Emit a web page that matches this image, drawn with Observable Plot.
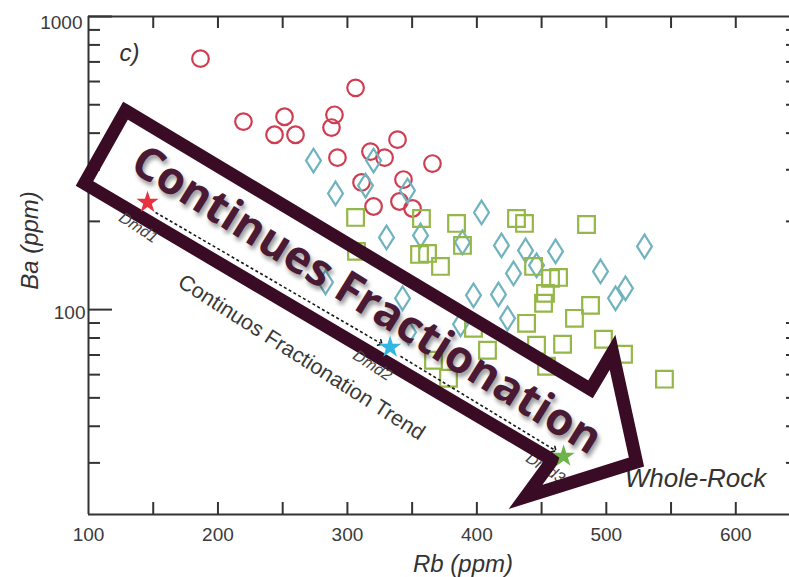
<!DOCTYPE html>
<html><head><meta charset="utf-8">
<script src="https://cdn.jsdelivr.net/npm/d3@7"></script>
<script src="https://cdn.jsdelivr.net/npm/@observablehq/plot@0.6"></script>
<style>body{margin:0;background:#fff;}</style>
</head><body><div id="chart"></div>
<script>
// ---- data (Rb ppm, Ba ppm) ----
const circleRb = [186.5,219.7,251.4,243.7,259.9,306.3,290.0,287.7,292.3,317.8,328.7,310.9,320.2,338.7,343.3,340.2,350.3,365.7];
const circleBa = [718,438,455,395,395,571,462,418,330,346,330,271.5,224.8,380,277.8,233.8,221.3,315];

const diamondRb = [273.8,320.2,314.0,290.8,346.4,330.2,356.5,403.6,388.9,419.0,437.6,460.8,529.5,428.3,446.1,495.5,514.8,507.1,397.4,416.7,342.6,283.1,423.7,387.4,347.2];
const diamondBa = [322.5,322.5,265,249,254.9,176.3,179.1,214.5,169.5,165.6,159.2,158.0,164.3,132.9,141.6,135.0,118.2,109.3,111.9,112.7,109.3,123.9,93.4,89.1,83.7];

const squareRb = [306.3,307.0,357.2,384.3,355.7,361.9,388.9,371.9,430.6,436.8,484.7,443.8,456.9,463.1,453.0,451.5,487.8,475.4,438.4,446.1,466.2,497.8,513.3,453.8,544.9,397.4,408.2,366.5,378.1];
const squareBa = [206.3,158,204.6,196.8,154.3,155.5,165.6,140.4,204.6,196.8,195.2,140.4,127.8,128.8,113.6,105.1,103.4,93.4,89.8,75.6,76.2,79.2,70.4,64.1,57.9,86.4,72.7,67.2,58.3];

const starNames = ["Dmd1","Dmd2","Dmd3"];
const starRb = [145.6,333,467];
const starBa = [232,74.4,31.6];
const starColors = ["#e8323f","#32b6e4","#6cb447"];
const starLabelRb = [138.6,319.4,453.0];
const starLabelBa = [190.5,64.5,28.8];

// dashed trend segments
const trendRb1 = [151.8,341];
const trendBa1 = [214.5,69.3];
const trendRb2 = [325.6,460];
const trendBa2 = [76.8,33.2];

// big arrow outline vertices
const arrowRb = [128.6,487.8,504.8,523.3,437.6,458.4,96.9];
const arrowBa = [477.3,53.5,71.5,30.2,22.95,30.67,269.3];

// axis ticks
const xTickLabels = [100,200,300,400,500,600];
const xTicks = [150,200,250,300,350,400,450,500,550,600];
const yMajor = [100,1000];
const yMinor = [30,40,50,60,70,80,90,200,300,400,500,600,700,800,900];

// texts
const bigText = "Continues Fractionation";
const bigTextRb = 314.8, bigTextBa = 107.6;
const trendText = "Continuos Fractionation Trend";
const trendTextRb = 264.5, trendTextBa = 68.8;
const wrText = "Whole-Rock";
const wrRb = 568.9, wrBa = 26.6;

const W = 701, H = 498;
const tallDiamond = {draw(ctx, size){ const r = Math.sqrt(size/Math.PI); const w = r*0.8, h = r*1.27; ctx.moveTo(0,-h); ctx.lineTo(w,0); ctx.lineTo(0,h); ctx.lineTo(-w,0); ctx.closePath(); }};
const axisColor = "#333";
const tickFont = "Liberation Sans, Arial, sans-serif";
const dmdLabel = {x: i => starLabelRb[i], y: i => starLabelBa[i], text: i => starNames[i], rotate: 33, fontSize: 16, fontStyle: "italic", fill: "#444"};

const chart = Plot.plot({
  width: 789, height: 577,
  marginLeft: 88, marginRight: 0, marginTop: 16, marginBottom: 63,
  style: {fontFamily: tickFont, background: "white", color: "#333"},
  x: {domain: [100, 641.5]},
  y: {type: "log", domain: [20, 1000]},
  marks: [
    // frame lines
    Plot.ruleX([100], {stroke: axisColor, strokeWidth: 2}),
    Plot.ruleY([20, 1000], {stroke: axisColor, strokeWidth: 2}),
    Plot.tickX(xTicks, {x: d => d, insetTop: H - 12, stroke: axisColor, strokeWidth: 2}),
    Plot.tickX(xTicks, {x: d => d, insetBottom: H - 12, stroke: axisColor, strokeWidth: 2}),
    Plot.tickY(yMinor, {y: d => d, insetRight: W - 12, stroke: axisColor, strokeWidth: 2}),
    Plot.tickY(yMajor, {y: d => d, insetRight: W - 24, stroke: axisColor, strokeWidth: 2}),
    Plot.tickY(yMinor, {y: d => d, insetLeft: W - 3, stroke: axisColor, strokeWidth: 2}),
    Plot.axisX(xTickLabels, {tickSize: 0, tickPadding: 13, fontSize: 19, label: null, tickFormat: d => String(d), fill: "#3a3a3a"}),
    Plot.axisY([100], {tickSize: 0, tickPadding: 3, dy: 3, fontSize: 19, label: null, tickFormat: d => String(d), fill: "#3a3a3a"}),
    Plot.axisY([1000], {tickSize: 0, tickPadding: 6, dy: 6, fontSize: 19, label: null, tickFormat: d => String(d), fill: "#3a3a3a"}),
    Plot.text(["Rb (ppm)"], {frameAnchor: "bottom", lineAnchor: "middle", dx: 24, dy: 50, fontSize: 24, fontStyle: "italic", fill: "#333"}),
    Plot.text(["Ba (ppm)"], {frameAnchor: "left", textAnchor: "middle", lineAnchor: "middle", dx: -58, dy: -25, rotate: -90, fontSize: 24, fontStyle: "italic", fill: "#333"}),
    Plot.text(["c)"], {frameAnchor: "top-left", textAnchor: "middle", lineAnchor: "middle", dx: 41, dy: 37, fontSize: 24, fontStyle: "italic", fill: "#333"}),
    // data
    Plot.dot(circleRb.map((d,i)=>i), {x: i => circleRb[i], y: i => circleBa[i], r: 8.3, stroke: "#cf3d50", strokeWidth: 2.2, fill: "none"}),
    Plot.dot(diamondRb.map((d,i)=>i), {x: i => diamondRb[i], y: i => diamondBa[i], r: 9.3, symbol: tallDiamond, stroke: "#6fb3bf", strokeWidth: 2.2, fill: "none"}),
    Plot.dot(squareRb.map((d,i)=>i), {x: i => squareRb[i], y: i => squareBa[i], r: 9.4, symbol: "square", stroke: "#95b748", strokeWidth: 2.2, fill: "none"}),
    // trend
    Plot.link([0,1], {x1: i => trendRb1[i], y1: i => trendBa1[i], x2: i => trendRb2[i], y2: i => trendBa2[i], stroke: "#1a1a1a", strokeWidth: 1.6, strokeDasharray: "3,2.5", markerEnd: "arrow"}),
    Plot.text([2], dmdLabel),
    Plot.text([trendText], {x: trendTextRb, y: trendTextBa, rotate: 32.6, fontSize: 21.5, fill: "#3a3a3a"}),
    Plot.text([wrText], {x: wrRb, y: wrBa, fontSize: 26, fontStyle: "italic", fill: "#333"}),
    // big arrow
    Plot.line(arrowRb.map((d,i)=>i), {x: i => arrowRb[i], y: i => arrowBa[i], stroke: "#3a0b24", strokeWidth: 13, strokeLinejoin: "miter", strokeMiterlimit: 10}),
    Plot.text([0, 1], dmdLabel),
    Plot.dot(starNames.map((d,i)=>i), {x: i => starRb[i], y: i => starBa[i], r: 7, symbol: "star", fill: i => starColors[i], stroke: "none"}),
    Plot.text([bigText], {x: bigTextRb, y: bigTextBa, rotate: 31.8, fontSize: 45, fontWeight: "bold", fontFamily: "Open Sans", fill: "#000", fillOpacity: 0.4, dx: 2, dy: 4}),
    Plot.text([bigText], {x: bigTextRb, y: bigTextBa, rotate: 31.8, fontSize: 45, fontWeight: "bold", fontFamily: "Open Sans", fill: "#4a1a34"})
  ]
});
const svg = d3.select(chart);
svg.selectAll('g[aria-label="line"] path').attr("d", function(){ return this.getAttribute("d") + "Z"; });
const defs = svg.insert("defs", ":first-child");
defs.append("filter").attr("id", "blurShadow").attr("x", "-10%").attr("y", "-10%").attr("width", "120%").attr("height", "120%")
  .append("feGaussianBlur").attr("stdDeviation", 2);
svg.selectAll('g[aria-label="text"]').filter(function(){ return this.getAttribute("fill-opacity") === "0.4"; }).attr("filter", "url(#blurShadow)");
document.getElementById("chart").appendChild(chart);
</script>
</body></html>
